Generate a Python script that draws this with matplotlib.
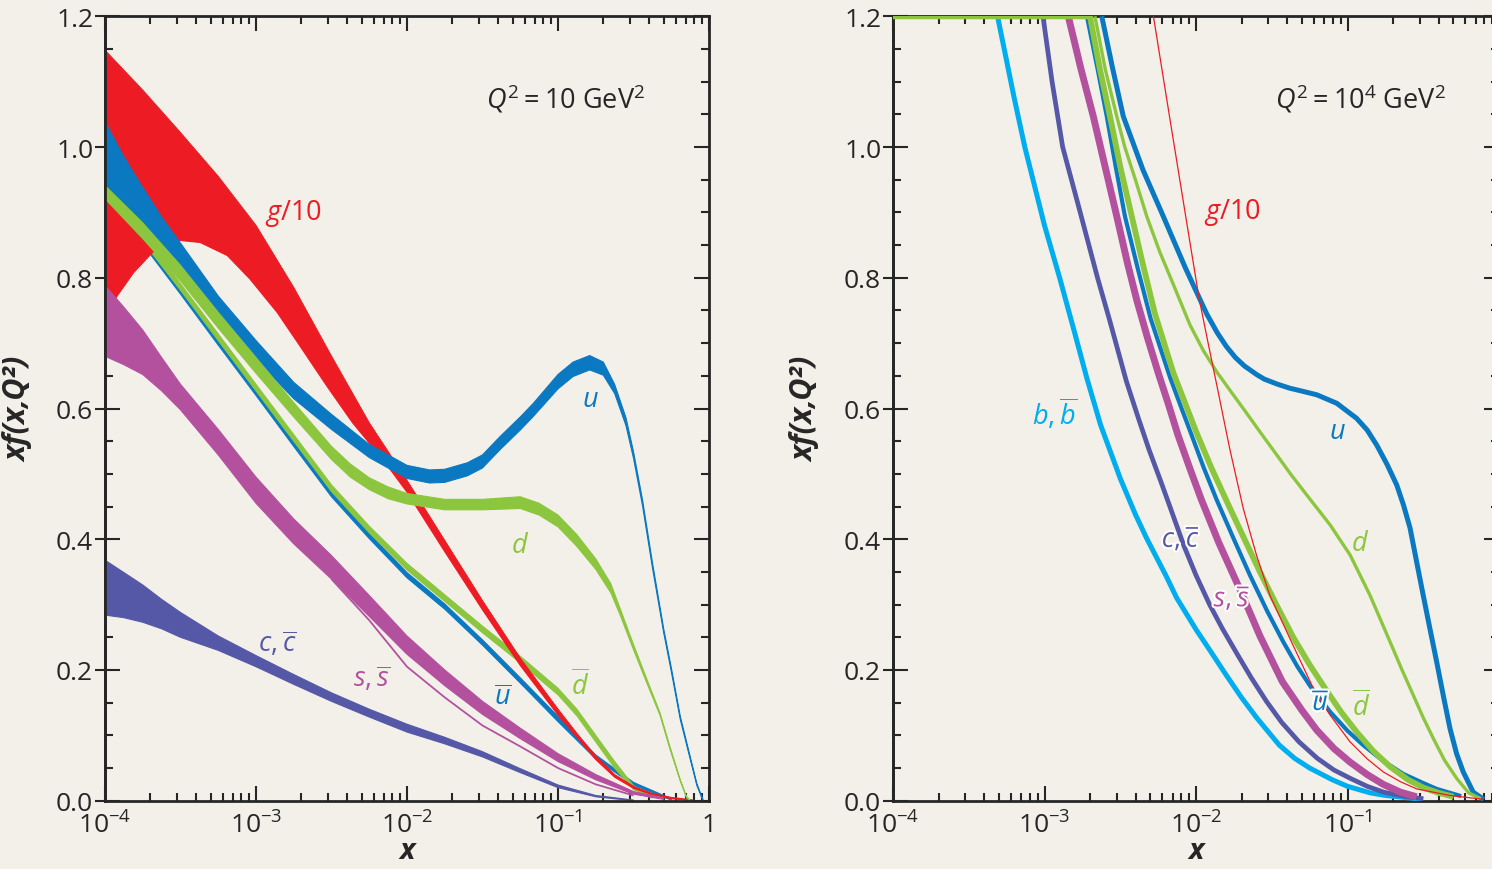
import numpy as np
import matplotlib.pyplot as plt
from matplotlib import patheffects
from matplotlib.ticker import FixedLocator, FixedFormatter, LogLocator, NullFormatter, MultipleLocator

plt.rcParams['font.family'] = ['Open Sans', 'DejaVu Sans']
plt.rcParams['mathtext.fontset'] = 'custom'
plt.rcParams['mathtext.rm'] = 'Open Sans'
plt.rcParams['mathtext.it'] = 'Open Sans:italic'
plt.rcParams['mathtext.bf'] = 'Open Sans:bold'

RED = '#ed1c24'
BLUE = '#0a79c2'
GREEN = '#8cc63f'
PURPLE = '#5558a7'
MAGENTA = '#b4519f'
CYAN = '#00aeef'
INK = '#262626'
PAPER = '#f3f0e9'

# ticks
x_ticks = [1e-4, 1e-3, 1e-2, 1e-1, 1]
x_labels = [r'$10^{-4}$', r'$10^{-3}$', r'$10^{-2}$', r'$10^{-1}$', '1']
x_labels_right = [r'$10^{-4}$', r'$10^{-3}$', r'$10^{-2}$', r'$10^{-1}$', '']  # "1" falls off the page
y_ticks = [0.0, 0.2, 0.4, 0.6, 0.8, 1.0, 1.2]
y_labels = ['0.0', '0.2', '0.4', '0.6', '0.8', '1.0', '1.2']

# ---- Q^2 = 10 GeV^2 : bands, log10(x) with upper / lower edge ----
lx_g_hi = [-4.0, -3.75, -3.5, -3.25, -3.0, -2.75, -2.5, -2.25, -2.0, -1.75, -1.5, -1.25, -1.0, -0.875, -0.75, -0.625, -0.5, -0.375, -0.25, -0.1]
g_hi = [1.148, 1.087, 1.022, 0.955, 0.880, 0.785, 0.680, 0.578, 0.490, 0.398, 0.306, 0.218, 0.140, 0.103, 0.068, 0.040, 0.022, 0.011, 0.005, 0.001]
lx_g_lo = [-4.0, -3.92, -3.81, -3.68, -3.58, -3.5, -3.37, -3.19, -3.04, -2.86, -2.71, -2.53, -2.36, -2.16, -2.0, -1.75, -1.5, -1.25, -1.0, -0.875, -0.75, -0.625, -0.5, -0.375, -0.25, -0.1]
g_lo = [0.740, 0.772, 0.808, 0.840, 0.853, 0.857, 0.854, 0.834, 0.798, 0.747, 0.696, 0.634, 0.578, 0.522, 0.472, 0.381, 0.292, 0.207, 0.131, 0.097, 0.063, 0.036, 0.019, 0.009, 0.003, 0.000]

lx_u = [-4.0, -3.875, -3.75, -3.625, -3.5, -3.25, -3.0, -2.75, -2.5, -2.25, -2.0, -1.85, -1.75, -1.6, -1.5, -1.384, -1.25, -1.163, -1.0, -0.9, -0.79, -0.7, -0.625, -0.55, -0.5, -0.44, -0.375, -0.3, -0.25, -0.19, -0.125, -0.08, -0.04]
u_hi = [1.039, 0.985, 0.938, 0.893, 0.853, 0.772, 0.704, 0.640, 0.591, 0.545, 0.513, 0.506, 0.507, 0.517, 0.529, 0.557, 0.587, 0.608, 0.652, 0.671, 0.681, 0.671, 0.637, 0.586, 0.534, 0.460, 0.365, 0.263, 0.204, 0.129, 0.068, 0.026, 0.002]
u_lo = [0.944, 0.910, 0.878, 0.843, 0.810, 0.737, 0.675, 0.615, 0.568, 0.525, 0.493, 0.486, 0.487, 0.497, 0.509, 0.537, 0.567, 0.588, 0.630, 0.649, 0.659, 0.651, 0.623, 0.574, 0.524, 0.451, 0.357, 0.257, 0.198, 0.124, 0.064, 0.023, 0.000]

lx_d = [-4.0, -3.75, -3.5, -3.25, -3.0, -2.75, -2.5, -2.375, -2.25, -2.125, -2.0, -1.75, -1.5, -1.25, -1.125, -1.0, -0.875, -0.75, -0.65, -0.59, -0.5, -0.41, -0.325, -0.26, -0.19, -0.148, -0.12]
d_hi = [0.941, 0.884, 0.819, 0.747, 0.678, 0.609, 0.542, 0.515, 0.494, 0.480, 0.470, 0.461, 0.461, 0.465, 0.455, 0.437, 0.407, 0.370, 0.332, 0.295, 0.239, 0.185, 0.135, 0.084, 0.032, 0.006, 0.000]
d_lo = [0.921, 0.860, 0.795, 0.723, 0.654, 0.587, 0.522, 0.495, 0.476, 0.462, 0.454, 0.445, 0.445, 0.447, 0.437, 0.419, 0.389, 0.354, 0.318, 0.285, 0.231, 0.179, 0.131, 0.080, 0.030, 0.004, 0.000]

lx_ub = [-4.0, -3.7, -3.5, -3.25, -3.0, -2.75, -2.5, -2.25, -2.0, -1.75, -1.5, -1.25, -1.0, -0.75, -0.5, -0.25]
ub_hi = [0.919, 0.844, 0.783, 0.705, 0.628, 0.550, 0.473, 0.409, 0.349, 0.301, 0.246, 0.188, 0.129, 0.070, 0.028, 0.003]
ub_lo = [0.911, 0.836, 0.775, 0.697, 0.620, 0.542, 0.465, 0.401, 0.341, 0.293, 0.238, 0.180, 0.121, 0.064, 0.024, 0.001]

lx_db = [-4.0, -3.7, -3.5, -3.25, -3.0, -2.75, -2.5, -2.25, -2.0, -1.75, -1.5, -1.25, -1.0, -0.875, -0.75, -0.625, -0.5, -0.375]
db_hi = [0.925, 0.851, 0.791, 0.714, 0.637, 0.560, 0.483, 0.420, 0.363, 0.315, 0.267, 0.221, 0.172, 0.140, 0.100, 0.060, 0.023, 0.006]
db_lo = [0.915, 0.841, 0.781, 0.704, 0.627, 0.550, 0.473, 0.410, 0.353, 0.305, 0.257, 0.211, 0.162, 0.130, 0.090, 0.050, 0.017, 0.004]

lx_s = [-4.0, -3.875, -3.75, -3.625, -3.5, -3.25, -3.0, -2.75, -2.5, -2.25, -2.0, -1.75, -1.5, -1.25, -1.0, -0.75, -0.5, -0.3]
s_hi = [0.788, 0.755, 0.720, 0.678, 0.637, 0.568, 0.495, 0.431, 0.375, 0.314, 0.252, 0.200, 0.152, 0.111, 0.072, 0.040, 0.014, 0.004]
s_lo = [0.680, 0.667, 0.652, 0.627, 0.598, 0.529, 0.455, 0.393, 0.339, 0.282, 0.224, 0.176, 0.132, 0.095, 0.060, 0.032, 0.010, 0.002]

lx_sb = [-2.5, -2.25, -2.0, -1.75, -1.5, -1.25, -1.0, -0.75, -0.5]
sb = [0.339, 0.276, 0.205, 0.158, 0.115, 0.083, 0.050, 0.025, 0.008]

lx_c = [-4.0, -3.875, -3.75, -3.625, -3.5, -3.25, -3.0, -2.75, -2.5, -2.25, -2.0, -1.75, -1.5, -1.25, -1.0, -0.75, -0.5]
c_hi = [0.368, 0.349, 0.330, 0.308, 0.288, 0.252, 0.222, 0.193, 0.165, 0.140, 0.117, 0.097, 0.075, 0.049, 0.024, 0.008, 0.001]
c_lo = [0.284, 0.280, 0.273, 0.263, 0.250, 0.230, 0.205, 0.178, 0.152, 0.128, 0.105, 0.087, 0.067, 0.043, 0.020, 0.006, 0.000]

# ---- Q^2 = 10^4 GeV^2 : central curves, log10(x) and xf ----
lx_b4 = [-3.31, -3.2, -3.13, -3.0, -2.9, -2.8, -2.72, -2.63, -2.5, -2.4, -2.325, -2.2, -2.127, -2.0, -1.908, -1.8, -1.7, -1.6, -1.45, -1.35, -1.25, -1.1, -1.0, -0.85, -0.75, -0.5]
b4 = [1.2, 1.075, 1.0, 0.88, 0.80, 0.715, 0.646, 0.575, 0.493, 0.438, 0.401, 0.345, 0.310, 0.262, 0.230, 0.192, 0.158, 0.127, 0.085, 0.065, 0.050, 0.032, 0.022, 0.012, 0.008, 0.002]

lx_c4 = [-3.01, -2.95, -2.88, -2.77, -2.65, -2.57, -2.46, -2.38, -2.31, -2.23, -2.16, -2.08, -2.0, -1.91, -1.83, -1.73, -1.635, -1.535, -1.435, -1.32, -1.2, -1.09, -0.98, -0.87, -0.76, -0.63, -0.5]
c4 = [1.2, 1.1, 1.0, 0.905, 0.80, 0.735, 0.642, 0.585, 0.537, 0.487, 0.442, 0.390, 0.345, 0.300, 0.265, 0.225, 0.188, 0.152, 0.120, 0.090, 0.065, 0.047, 0.034, 0.022, 0.013, 0.007, 0.003]

lx_s4 = [-2.843, -2.76, -2.678, -2.6, -2.523, -2.45, -2.39, -2.32, -2.25, -2.18, -2.12, -2.04, -1.967, -1.85, -1.70, -1.578, -1.43, -1.3, -1.203, -1.09, -0.983, -0.87, -0.764, -0.65, -0.544]
s4 = [1.2, 1.12, 1.047, 0.97, 0.894, 0.82, 0.765, 0.708, 0.655, 0.605, 0.560, 0.508, 0.462, 0.395, 0.318, 0.252, 0.182, 0.138, 0.108, 0.080, 0.059, 0.040, 0.025, 0.013, 0.006]

lx_ub4 = [-2.72, -2.65, -2.589, -2.53, -2.469, -2.38, -2.30, -2.172, -2.1, -2.03, -1.95, -1.863, -1.75, -1.644, -1.53, -1.424, -1.33, -1.248, -1.115, -1.0, -0.896, -0.76, -0.632, -0.5, -0.411, -0.25]
ub4 = [1.2, 1.12, 1.047, 0.97, 0.894, 0.81, 0.738, 0.648, 0.603, 0.560, 0.510, 0.460, 0.400, 0.345, 0.290, 0.243, 0.205, 0.176, 0.136, 0.107, 0.085, 0.060, 0.041, 0.027, 0.018, 0.007]

lx_db4 = [-4.0, -2.70, -2.635, -2.568, -2.5, -2.424, -2.35, -2.271, -2.15, -2.0, -1.9, -1.797, -1.69, -1.578, -1.47, -1.358, -1.25, -1.137, -1.04, -0.939, -0.83, -0.719, -0.6, -0.5, -0.4, -0.3]
db4 = [1.2, 1.2, 1.12, 1.047, 0.97, 0.894, 0.82, 0.745, 0.655, 0.565, 0.510, 0.458, 0.405, 0.350, 0.300, 0.250, 0.208, 0.168, 0.135, 0.105, 0.076, 0.052, 0.032, 0.020, 0.012, 0.006]

lx_d4 = [-2.667, -2.6, -2.523, -2.47, -2.4, -2.325, -2.24, -2.15, -2.04, -1.95, -1.863, -1.77, -1.688, -1.58, -1.467, -1.37, -1.27, -1.115, -0.983, -0.851, -0.719, -0.64, -0.565, -0.5, -0.433, -0.36, -0.279, -0.2, -0.12]
d4 = [1.2, 1.12, 1.047, 1.0, 0.95, 0.894, 0.84, 0.790, 0.728, 0.688, 0.656, 0.626, 0.600, 0.565, 0.529, 0.498, 0.468, 0.422, 0.376, 0.314, 0.243, 0.200, 0.161, 0.127, 0.095, 0.062, 0.034, 0.012, 0.003]

lx_u4 = [-2.622, -2.55, -2.48, -2.35, -2.216, -2.07, -1.93, -1.86, -1.80, -1.74, -1.68, -1.6, -1.55, -1.46, -1.38, -1.29, -1.203, -1.071, -0.94, -0.87, -0.807, -0.74, -0.675, -0.63, -0.587, -0.545, -0.5, -0.455, -0.411, -0.367, -0.323, -0.28, -0.236, -0.17, -0.1]
u4 = [1.2, 1.12, 1.047, 0.965, 0.894, 0.815, 0.745, 0.716, 0.695, 0.678, 0.665, 0.652, 0.645, 0.637, 0.631, 0.626, 0.621, 0.608, 0.585, 0.567, 0.544, 0.515, 0.483, 0.452, 0.417, 0.367, 0.314, 0.262, 0.212, 0.160, 0.110, 0.072, 0.044, 0.013, 0.002]

lx_g4 = [-2.281, -2.175, -2.068, -1.98, -1.92, -1.863, -1.776, -1.688, -1.6, -1.512, -1.38, -1.226, -1.115, -0.983, -0.87, -0.764, -0.65, -0.543, -0.323, -0.1]
g4 = [1.2, 1.047, 0.894, 0.769, 0.700, 0.636, 0.537, 0.447, 0.375, 0.314, 0.248, 0.172, 0.131, 0.090, 0.064, 0.044, 0.029, 0.018, 0.008, 0.002]


def band(ax, lx_hi, hi, lx_lo, lo, color, z):
    xs = np.concatenate([10.0 ** np.asarray(lx_hi), 10.0 ** np.asarray(lx_lo)[::-1]])
    ys = np.concatenate([hi, lo[::-1]])
    ax.fill(xs, ys, facecolor=color, edgecolor=color, lw=0.8, zorder=z)


def curve(ax, lx, y, color, lw, z):
    ax.plot(10.0 ** np.asarray(lx), y, color=color, lw=lw, zorder=z,
            solid_capstyle='butt', solid_joinstyle='round')


def setup(ax, xlabels):
    ax.set_xscale('log')
    ax.set_xlim(1e-4, 1)
    ax.set_ylim(0, 1.2)
    ax.set_facecolor('none')
    for sp in ax.spines.values():
        sp.set_linewidth(2)
        sp.set_color(INK)
        sp.set_zorder(2.5)
    ax.xaxis.set_major_locator(FixedLocator(x_ticks))
    ax.xaxis.set_major_formatter(FixedFormatter(xlabels))
    ax.xaxis.set_minor_locator(LogLocator(base=10, subs=np.arange(2, 10) * 1.0, numticks=20))
    ax.xaxis.set_minor_formatter(NullFormatter())
    ax.yaxis.set_major_locator(FixedLocator(y_ticks))
    ax.yaxis.set_minor_locator(MultipleLocator(0.05))
    ax.tick_params(axis='x', which='major', direction='in', length=10.5, width=1.5,
                   top=True, labelsize=19, pad=8, color=INK, labelcolor=INK)
    ax.tick_params(axis='x', which='minor', direction='in', length=5.5, width=1.5,
                   top=True, color=INK)
    ax.tick_params(axis='y', which='major', direction='in', length=10.5, width=1.5,
                   left=True, right=True, labelleft=False, color=INK)
    ax.tick_params(axis='y', which='minor', direction='in', length=5.5, width=1.5,
                   left=True, right=True, color=INK)
    # outward part of the major y ticks, with the labels
    sec = ax.secondary_yaxis('left')
    sec.set_ticks(y_ticks, labels=y_labels)
    sec.tick_params(direction='out', length=7, width=1.5, labelsize=19, pad=1.5,
                    color=INK, labelcolor=INK)
    sec.spines['left'].set_linewidth(2)
    sec.spines['left'].set_color(INK)
    ax.set_ylabel('xf(x,Q²)', fontsize=22, fontweight='bold', fontstyle='italic', color=INK)
    ax.yaxis.set_label_coords(-0.119, 0.5)
    ax.set_xlabel('x', fontsize=21, fontweight='bold', fontstyle='italic', color=INK)
    ax.xaxis.set_label_coords(0.5, -0.064)
    ax.xaxis.label.set_va('center')


fig = plt.figure(figsize=(14.92, 8.70), dpi=100, facecolor=PAPER)
axL = fig.add_axes([105 / 1492, 1 - 801.7 / 870, 604 / 1492, 784.4 / 870])
axR = fig.add_axes([893 / 1492, 1 - 801.7 / 870, 606 / 1492, 784.4 / 870])
setup(axL, x_labels)
setup(axR, x_labels_right)

# left panel: Q^2 = 10 GeV^2
band(axL, lx_ub, ub_hi, lx_ub, ub_lo, BLUE, 2.0)
band(axL, lx_db, db_hi, lx_db, db_lo, GREEN, 2.05)
band(axL, lx_g_hi, g_hi, lx_g_lo, g_lo, RED, 2.1)
band(axL, lx_s, s_hi, lx_s, s_lo, MAGENTA, 2.15)
curve(axL, lx_sb, sb, MAGENTA, 1.3, 2.15)
band(axL, lx_c, c_hi, lx_c, c_lo, PURPLE, 2.2)
band(axL, lx_u, u_hi, lx_u, u_lo, BLUE, 2.25)
band(axL, lx_d, d_hi, lx_d, d_lo, GREEN, 2.3)

fs = 19.5
axL.text(1.76e-3, 0.90, r'$g$/10', color=RED, fontsize=fs, ha='center', va='center')
axL.text(0.163, 0.614, r'$u$', color=BLUE, fontsize=fs, ha='center', va='center')
axL.text(0.056, 0.391, r'$d$', color=GREEN, fontsize=fs, ha='center', va='center')
axL.text(0.14, 0.176, r'$\overline{d}$', color=GREEN, fontsize=fs, ha='center', va='center')
axL.text(0.0432, 0.158, r'$\overline{u}$', color=BLUE, fontsize=fs, ha='center', va='center')
axL.text(5.86e-3, 0.187, r'$s,\overline{s}$', color=MAGENTA, fontsize=fs, ha='center', va='center')
axL.text(1.38e-3, 0.241, r'$c,\overline{c}$', color=PURPLE, fontsize=fs, ha='center', va='center')
axL.text(0.762, 0.895, r'$Q^2 = 10$ GeV$^2$', transform=axL.transAxes, color=INK,
         fontsize=fs, ha='center', va='center')

# right panel: Q^2 = 10^4 GeV^2
curve(axR, lx_b4, b4, CYAN, 3.6, 3.0)
curve(axR, lx_c4, c4, PURPLE, 3.4, 3.05)
curve(axR, lx_s4, s4, MAGENTA, 5.0, 3.1)
curve(axR, lx_u4, u4, BLUE, 3.6, 3.15)
curve(axR, lx_ub4, ub4, BLUE, 3.0, 3.2)
curve(axR, lx_db4, db4, GREEN, 4.2, 3.25)
curve(axR, lx_d4, d4, GREEN, 2.4, 3.3)
curve(axR, lx_g4, g4, RED, 0.9, 3.35)

halo = [patheffects.withStroke(linewidth=3, foreground='white')]
axR.text(0.0173, 0.902, r'$g$/10', color=RED, fontsize=fs, ha='center', va='center')
axR.text(0.0853, 0.565, r'$u$', color=BLUE, fontsize=fs, ha='center', va='center')
axR.text(0.121, 0.394, r'$d$', color=GREEN, fontsize=fs, ha='center', va='center')
axR.text(0.123, 0.144, r'$\overline{d}$', color=GREEN, fontsize=fs, ha='center', va='center')
axR.text(0.0668, 0.149, r'$\overline{u}$', color=BLUE, fontsize=fs, ha='center', va='center',
         path_effects=halo, zorder=5)
axR.text(0.0173, 0.309, r'$s,\overline{s}$', color=MAGENTA, fontsize=fs, ha='center', va='center',
         path_effects=halo, zorder=5)
axR.text(7.96e-3, 0.40, r'$c,\overline{c}$', color=PURPLE, fontsize=fs, ha='center', va='center',
         path_effects=halo, zorder=5)
axR.text(1.17e-3, 0.593, r'$b,\overline{b}$', color=CYAN, fontsize=fs, ha='center', va='center')
axR.text(0.771, 0.895, r'$Q^2 = 10^4$ GeV$^2$', transform=axR.transAxes, color=INK,
         fontsize=fs, ha='center', va='center')

fig.savefig('out.png', dpi=100, facecolor=PAPER)
